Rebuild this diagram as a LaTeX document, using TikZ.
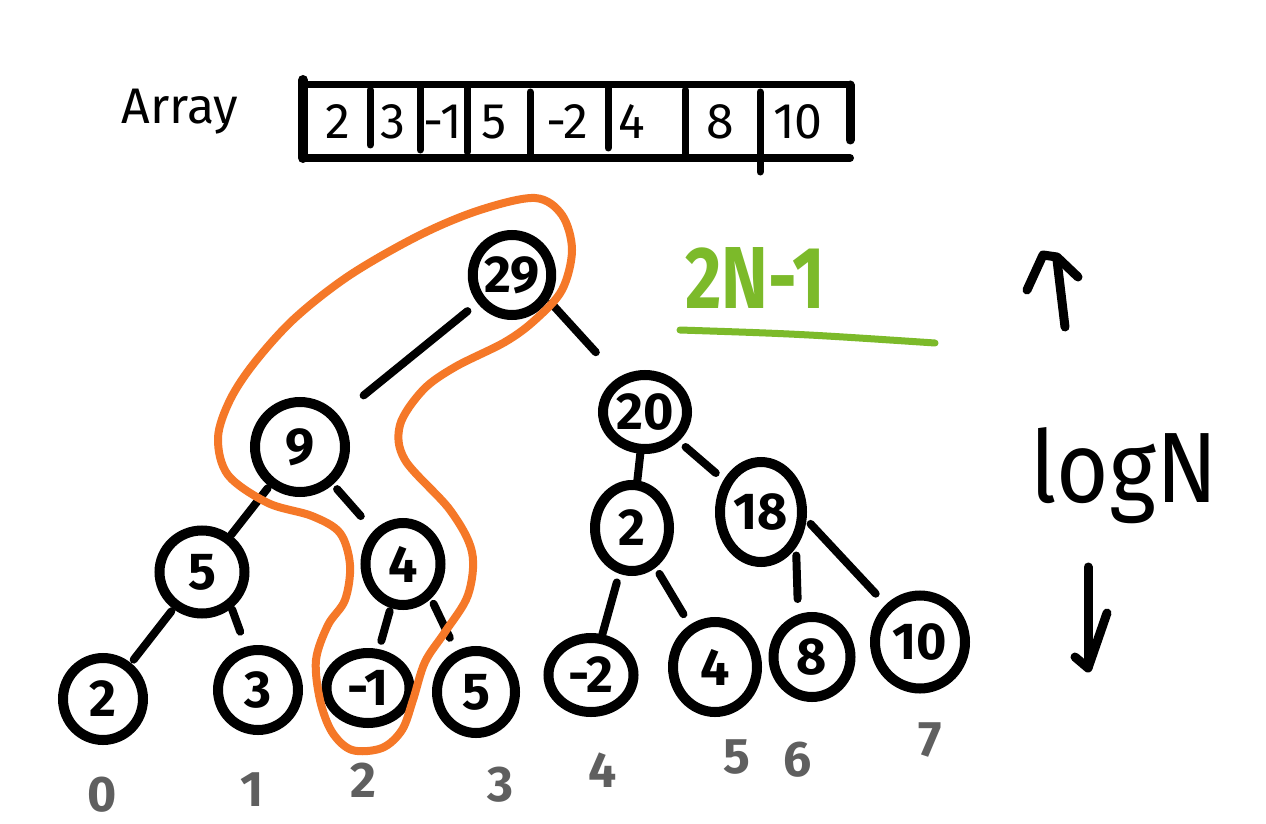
\documentclass[tikz,border=0pt]{standalone}
\usepackage{fontspec}
\usepackage{graphicx}
\setmainfont{Fira Sans}
\usetikzlibrary{shapes.geometric,calc}
\definecolor{hlorange}{RGB}{245,120,40}
\definecolor{hlgreen}{RGB}{124,186,42}
\definecolor{idxgray}{RGB}{95,95,95}
\begin{document}
\begin{tikzpicture}[x=1pt,y=-1pt,
  nd/.style={ellipse,draw,line width=10pt,inner sep=0pt,font=\fontsize{52}{56}\selectfont\bfseries},
  edge/.style={line width=8pt,line cap=round},
  idx/.style={text=idxgray,font=\fontsize{50}{54}\selectfont\bfseries,inner sep=0pt},
  cell/.style={font=\fontsize{50}{54}\selectfont,inner sep=0pt},
  bar/.style={line width=7pt,line cap=round},
  hand/.style={line width=9pt,line cap=round,line join=round},
]
\useasboundingbox[fill=white] (0,0) rectangle (1266,824);

% ---- array ----
\node[font=\fontsize{50}{54}\selectfont,inner sep=0pt] (arrlabel) at (180,112) {Array};
\draw[bar] (303,85) -- (848,85);
\draw[bar,line width=8pt] (303,158) -- (850,158);
\draw[bar,line width=9pt] (850,85) -- (850,140);
\draw[bar,line width=10pt] (303,80) -- (303,158);
\draw[bar] (370,90) -- (370,145);
\draw[bar] (420,88) -- (420,150);
\draw[bar] (467,88) -- (467,152);
\draw[bar] (530,92) -- (530,158);
\draw[bar] (608,85) -- (608,148);
\draw[bar] (685,90) -- (685,158);
\draw[bar] (760,92) -- (760,172);
\node[cell] (c0) at (338,122) {2};
\node[cell] (c1) at (393,122) {3};
\node[cell] (c2) at (443,122) {-1};
\node[cell] (c3) at (494,122) {5};
\node[cell] (c4) at (567,122) {-2};
\node[cell] (c5) at (632,122) {4};
\node[cell] (c6) at (720,122) {8};
\node[cell] (c7) at (798,122) {10};

% ---- tree nodes ----
\node[nd,minimum width=78pt,minimum height=80pt] (root) at (512,275) {29};
\node[nd,minimum width=90pt,minimum height=90pt] (n9)  at (300,447) {9};
\node[nd,minimum width=84pt,minimum height=74pt] (n20) at (645,412) {20};
\node[nd,minimum width=85pt,minimum height=83pt] (n5)  at (202,572) {5};
\node[nd,minimum width=75pt,minimum height=82pt] (n4)  at (403,564) {4};
\node[nd,minimum width=74pt,minimum height=86pt] (n2)  at (632,528) {2};
\node[nd,minimum width=82pt,minimum height=100pt] (n18) at (761,512) {18};
\node[nd,minimum width=80pt,minimum height=82pt] (l0) at (103,699) {2};
\node[nd,minimum width=80pt,minimum height=80pt] (l1) at (258,690) {3};
\node[nd,minimum width=83pt,minimum height=70pt] (l2) at (368,688) {-1};
\node[nd,minimum width=78pt,minimum height=82pt] (l3) at (476,692) {5};
\node[nd,minimum width=85pt,minimum height=74pt] (l4) at (591,675) {-2};
\node[nd,minimum width=84pt,minimum height=90pt] (l5) at (715,667) {4};
\node[nd,minimum width=77pt,minimum height=80pt] (l6) at (812,657) {8};
\node[nd,minimum width=90pt,minimum height=93pt] (l7) at (920,642) {10};

% ---- connectors ----
\draw[edge] ($(root)!0.21!(n9)$) -- ($(root)!0.70!(n9)$);
\draw[edge] ($(root)!0.25!(n20)+(6,-6)$) -- ($(root)!0.60!(n20)+(4,-5)$);
\draw[edge] ($(n9)!0.33!(n5)$) -- ($(n9)!0.70!(n5)$);
\draw[edge] ($(n9)!0.36!(n4)$) -- ($(n9)!0.59!(n4)$);
\draw[edge] ($(n5)!0.31!(l0)$) -- ($(n5)!0.69!(l0)$);
\draw[edge] ($(n5)!0.36!(l1)+(10,-5)$) -- ($(n5)!0.54!(l1)+(8,-4)$);
\draw[edge] ($(n4)!0.38!(l2)$) -- ($(n4)!0.62!(l2)$);
\draw[edge] ($(n4)!0.35!(l3)+(5,-5)$) -- ($(n4)!0.60!(l3)+(3,-3)$);
\draw[edge] ($(n20)!0.34!(n2)$) -- ($(n20)!0.59!(n2)$);
\draw[edge] ($(n20)!0.35!(n18)$) -- ($(n20)!0.61!(n18)$);
\draw[edge] ($(n2)!0.37!(l4)$) -- ($(n2)!0.75!(l4)$);
\draw[edge] ($(n2)!0.33!(l5)$) -- ($(n2)!0.62!(l5)$);
\draw[edge] ($(n18)!0.30!(l6)+(20,0)$) -- ($(n18)!0.60!(l6)+(6,0)$);
\draw[edge] ($(n18)!0.23!(l7)+(13,-18)$) -- ($(n18)!0.69!(l7)+(5,-8)$);

% ---- orange highlight loop ----
\draw[hlorange,line width=8pt] plot[smooth cycle,tension=0.55] coordinates {
 (535,198) (562,215) (572,250) (562,290) (535,320) (505,342) (455,367) (423,390)
 (400,425) (405,460) (450,510) (472,552) (468,595) (445,632) (425,662) (413,700)
 (402,730) (382,748) (352,750) (332,732) (320,700) (316,660) (328,625) (345,600)
 (350,565) (340,533) (312,516) (268,503) (228,475) (218,438) (230,400) (255,362)
 (295,318) (350,275) (420,235) (480,210)};

% ---- index labels ----
\node[idx] (i0) at (102,795) {0};
\node[idx] (i1) at (252,790) {1};
\node[idx] (i2) at (363,780) {2};
\node[idx] (i3) at (500,785) {3};
\node[idx] (i4) at (603,770) {4};
\node[idx] (i5) at (737,757) {5};
\node[idx] (i6) at (798,760) {6};
\node[idx] (i7) at (930,740) {7};

% ---- 2N-1 ----
\node[text=hlgreen,font=\fontsize{88}{90}\selectfont\bfseries,inner sep=0pt] (twon) at (755,278) {\scalebox{0.8}[1]{2N-1}};
\draw[hlgreen,line width=7pt,line cap=round] (680,330) .. controls (800,334) .. (935,343);

% ---- logN with arrows ----
\node[font=\fontsize{100}{100}\selectfont,inner sep=0pt,anchor=base] (logn) at (1124,502) {\scalebox{0.9}[1]{logN}};
\draw[hand] (1065,327) -- (1057,260);
\draw[hand] (1027,290) -- (1043,255) -- (1057,257) -- (1078,277);
\draw[hand] (1088,567) -- (1088,667);
\draw[hand] (1075,657) -- (1088,668) -- (1107,613);
\end{tikzpicture}
\end{document}
